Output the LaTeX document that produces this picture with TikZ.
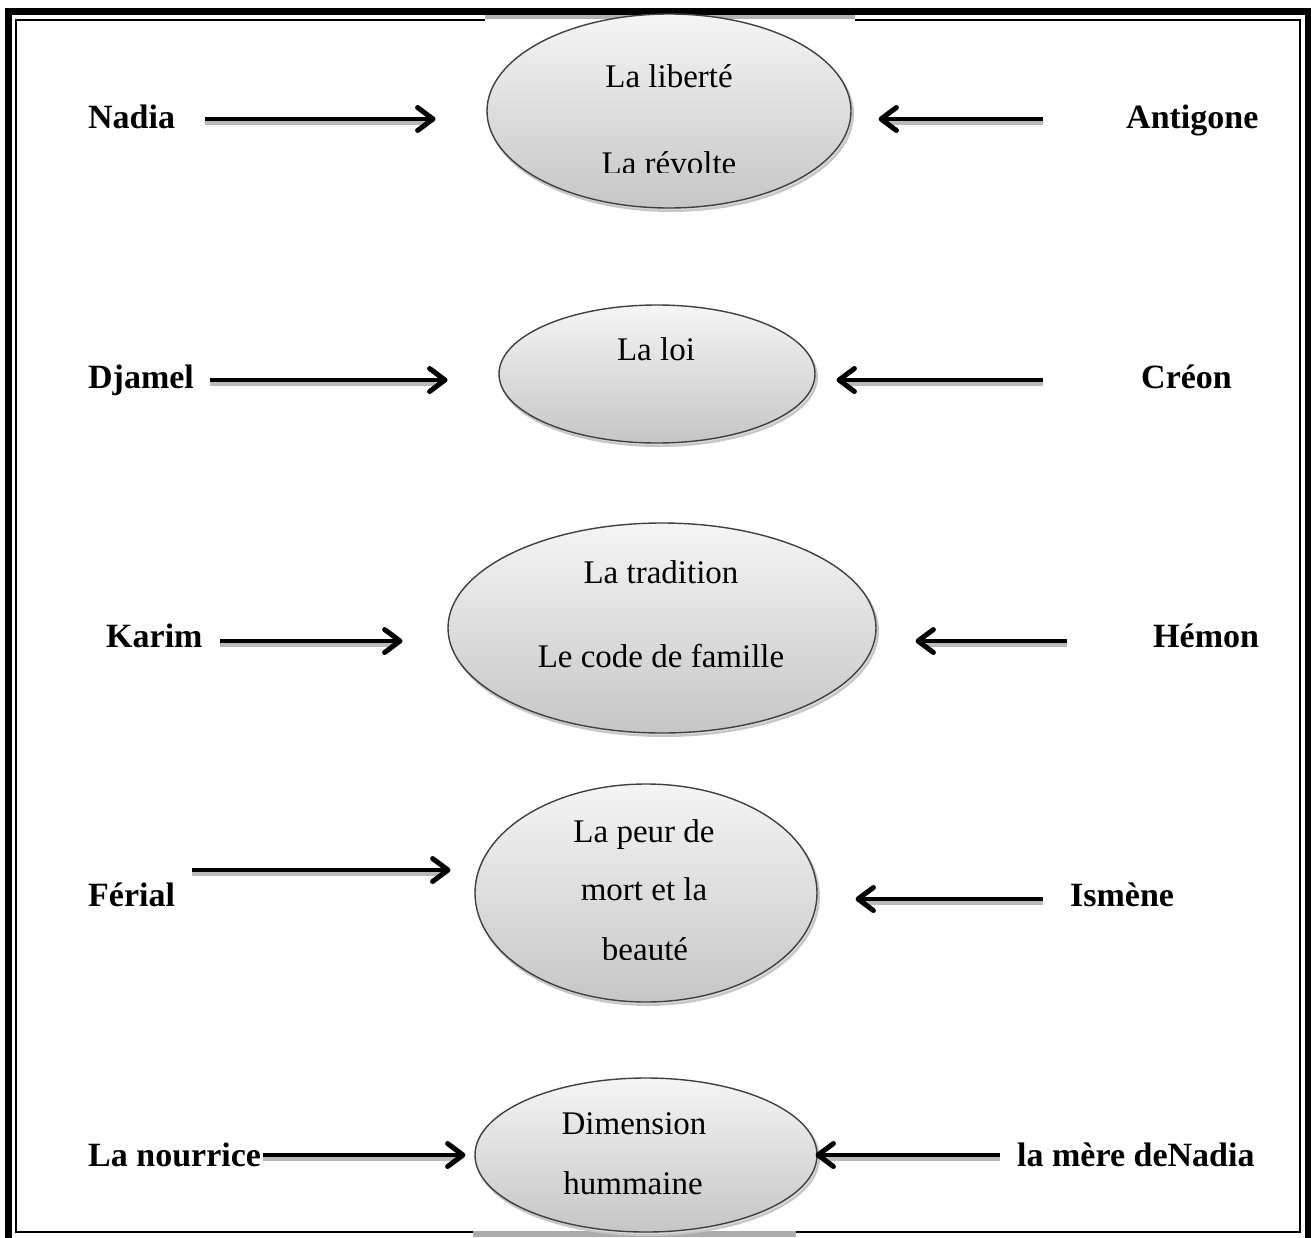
\documentclass[tikz,border=0pt]{standalone}
\usepackage{fontspec}
\setmainfont{Liberation Serif}
\usetikzlibrary{shapes.geometric,arrows.meta,calc}
\tikzset{
  bubble/.style={ellipse, draw=black!75, line width=1.4pt, top color=gray!8, bottom color=gray!45, inner sep=0pt},
  bubshadow/.style={ellipse, fill=gray!30, draw=gray!45, line width=2pt, inner sep=0pt},
  intext/.style={font=\fontsize{33}{33}\selectfont, anchor=base, inner sep=0pt},
  who/.style={font=\fontsize{34}{34}\selectfont\bfseries, anchor=base west, inner sep=0pt},
  shaft/.style={draw=gray!55, line width=4.5pt},
  link/.style={draw=black, line width=4.5pt},
  barb/.style={draw=black, line width=5pt, line cap=round, line join=round},
}
\newcommand{\mylink}[2]{%
  \path[shaft] ($(#1)+(0,4)$) -- ($($(#2)!8pt!(#1)$)+(0,4)$);
  \draw[link] (#1) -- ($(#2)!2pt!(#1)$);
  \draw[barb] ($(#2)!20pt!35:(#1)$) -- ($(#2)!1pt!(#1)$) -- ($(#2)!20pt!-35:(#1)$);}
\begin{document}
\begin{tikzpicture}[x=1pt,y=-1pt]
\useasboundingbox (0,0) rectangle (1311,1237);
% frame
\draw[line width=7pt] (8,11.5) rectangle (1308,1245);
\draw[line width=2.5pt] (16,20) rectangle (1300,1232);
\fill[white] (485,16) rectangle (855,23);
\fill[gray!60] (485,15) rectangle (855,18.5);
\fill[gray!65] (473,1231) rectangle (796,1237);

% ellipse shadows
\node[bubshadow, minimum width=364pt, minimum height=194pt] at (671,114) {};
\node[bubshadow, minimum width=316pt, minimum height=138pt] at (659,377) {};
\node[bubshadow, minimum width=428pt, minimum height=210pt] at (664,631) {};
\node[bubshadow, minimum width=342pt, minimum height=218pt] at (648,896) {};
\node[bubshadow, minimum width=342pt, minimum height=154pt] at (648,1158) {};

% ellipses
\node[bubble, minimum width=364pt, minimum height=194pt] (e1) at (669,111) {};
\node[bubble, minimum width=316pt, minimum height=138pt] (e2) at (657,374) {};
\node[bubble, minimum width=428pt, minimum height=210pt] (e3) at (662,628) {};
\node[bubble, minimum width=342pt, minimum height=218pt] (e4) at (646,893) {};
\node[bubble, minimum width=342pt, minimum height=154pt] (e5) at (646,1155) {};

% ellipse texts
\node[intext] (t1a) at (669,87) {La liberté};
\begin{scope}
\clip (480,100) rectangle (860,172);
\node[intext] (t1b) at (669,174) {La révolte};
\end{scope}
\node[intext] (t2) at (656,360) {La loi};
\node[intext] (t3a) at (661,583) {La tradition};
\node[intext] (t3b) at (661,667) {Le code de famille};
\node[intext] (t4a) at (644,842) {La peur de};
\node[intext] (t4b) at (644,900) {mort et la};
\begin{scope}
\clip (470,900) rectangle (820,959);
\node[intext] (t4c) at (645,960) {beauté};
\end{scope}
\node[intext] (t5a) at (634,1134) {Dimension};
\node[intext] (t5b) at (633,1194) {hummaine};

% labels
\node[who] (nadia) at (88,128) {Nadia};
\node[who] (antigone) at (1126,128) {Antigone};
\node[who] (djamel) at (88,388) {Djamel};
\node[who] (creon) at (1141,388) {Créon};
\node[who] (karim) at (106,647) {Karim};
\node[who] (hemon) at (1153,647) {Hémon};
\node[who] (ferial) at (88,906) {Férial};
\node[who] (ismene) at (1070,906) {Ismène};
\node[who] (nourrice) at (88,1166) {La nourrice};
\node[who] (mere) at (1017,1166) {la mère deNadia};

% arrow end points
\coordinate (a1s) at (205,119);  \coordinate (a1e) at (434,119);
\coordinate (b1s) at (1043,119); \coordinate (b1e) at (880,119);
\coordinate (a2s) at (210,380);  \coordinate (a2e) at (446,380);
\coordinate (b2s) at (1043,380); \coordinate (b2e) at (838,380);
\coordinate (a3s) at (220,641);  \coordinate (a3e) at (401,641);
\coordinate (b3s) at (1067,641); \coordinate (b3e) at (917,641);
\coordinate (a4s) at (192,870);  \coordinate (a4e) at (449,870);
\coordinate (b4s) at (1043,899); \coordinate (b4e) at (857,899);
\coordinate (a5s) at (263,1155); \coordinate (a5e) at (464,1155);
\coordinate (b5s) at (1000,1155);\coordinate (b5e) at (817,1155);

\mylink{a1s}{a1e}
\mylink{b1s}{b1e}
\mylink{a2s}{a2e}
\mylink{b2s}{b2e}
\mylink{a3s}{a3e}
\mylink{b3s}{b3e}
\mylink{a4s}{a4e}
\mylink{b4s}{b4e}
\mylink{a5s}{a5e}
\mylink{b5s}{b5e}
\end{tikzpicture}
\end{document}
